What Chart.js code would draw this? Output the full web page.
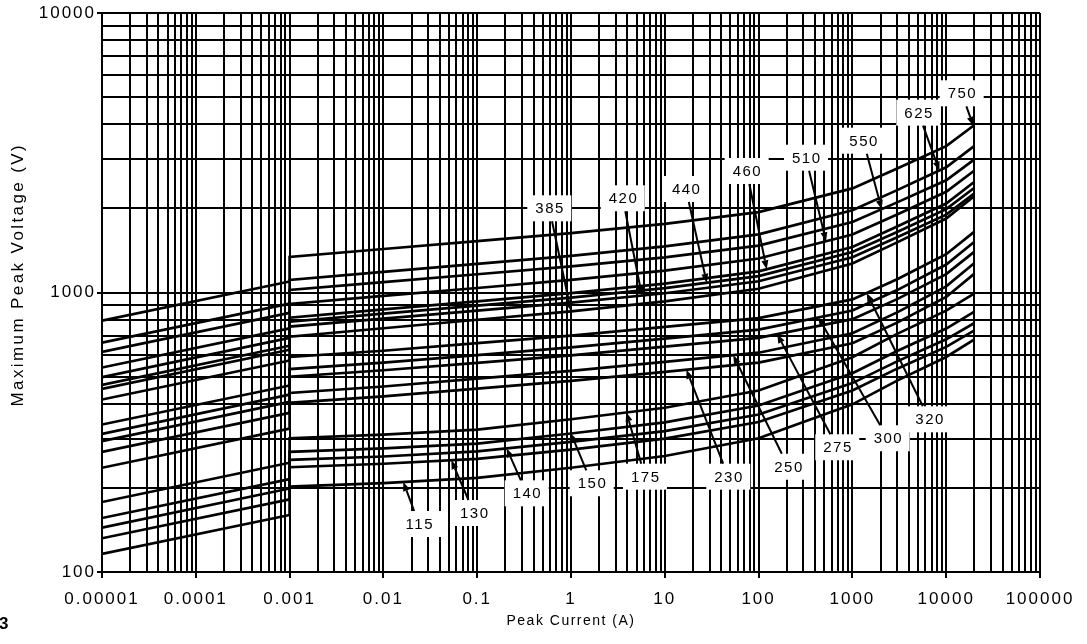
<!DOCTYPE html>
<html><head><meta charset="utf-8">
<script src="https://cdn.jsdelivr.net/npm/chart.js@4.4.1/dist/chart.umd.min.js"></script>
<style>html,body{margin:0;padding:0;background:#fff;}canvas{display:block;}</style>
</head><body>
<canvas id="c" width="1087" height="644"></canvas>
<script>
// Peak current (A) sample points; 0.001 appears twice (step in the curves)
const current = [0.00001, 0.001, 0.001, 0.01, 0.1, 1, 10, 100, 1000, 3000, 10000, 20000];
// Maximum peak voltage (V) for each rating
const v115 = [116, 160, 202, 208, 217, 236, 260, 301, 398, 484, 588, 680];
const v130 = [132, 182, 237, 244, 254, 274, 300, 344, 446, 534, 639, 732];
const v140 = [144, 199, 252, 259, 270, 292, 319, 366, 474, 567, 680, 778];
const v150 = [156, 215, 269, 277, 288, 313, 343, 394, 514, 618, 743, 854];
const v175 = [178, 246, 301, 310, 323, 352, 387, 446, 587, 711, 861, 993];
const v230 = [236, 326, 403, 425, 453, 483, 520, 561, 658, 780, 964, 1168];
const v250 = [269, 371, 437, 461, 492, 524, 565, 609, 715, 849, 1052, 1275];
const v275 = [294, 406, 500, 527, 560, 596, 640, 688, 803, 947, 1163, 1400];
const v300 = [312, 431, 532, 561, 597, 636, 684, 737, 862, 1020, 1259, 1520];
const v320 = [337, 465, 588, 619, 659, 701, 753, 810, 945, 1115, 1371, 1651];
const v385 = [414, 571, 695, 745, 799, 856, 929, 1031, 1270, 1511, 1840, 2214];
const v420 = [452, 624, 755, 806, 861, 920, 994, 1097, 1337, 1576, 1899, 2264];
const v440 = [467, 645, 786, 840, 897, 959, 1036, 1144, 1395, 1647, 1987, 2371];
const v460 = [498, 688, 813, 870, 930, 995, 1076, 1190, 1455, 1721, 2082, 2491];
const v510 = [539, 744, 910, 972, 1038, 1109, 1198, 1323, 1612, 1901, 2293, 2733];
const v550 = [613, 846, 1021, 1089, 1162, 1240, 1336, 1472, 1787, 2101, 2522, 2996];
const v625 = [661, 912, 1109, 1185, 1266, 1353, 1462, 1614, 1969, 2324, 2804, 3345];
const v750 = [793, 1095, 1340, 1431, 1527, 1630, 1759, 1940, 2358, 2777, 3340, 3975];
const ratings = ['115','130','140','150','175','230','250','275','300','320','385','420','440','460','510','550','625','750'];
const series = [v115,v130,v140,v150,v175,v230,v250,v275,v300,v320,v385,v420,v440,v460,v510,v550,v625,v750];

// Tick labels
const xDecades = [-5,-4,-3,-2,-1,0,1,2,3,4,5];
const xTickLabels = ['0.00001','0.0001','0.001','0.01','0.1','1','10','100','1000','10000','100000'];
const yDecades = [2,3,4];
const yTickLabels = ['100','1000','10000'];

// Callout annotations: label centre (data units) and the current at which the arrow meets its curve
const callouts = [
  {lx:0.024, ly:148.5, tx:0.0163},
  {lx:0.0925, ly:162.6, tx:0.053},
  {lx:0.337, ly:191.2, tx:0.206},
  {lx:1.663, ly:207.7, tx:1.0},
  {lx:6.15, ly:219.3, tx:3.9},
  {lx:47.5, ly:219.3, tx:17},
  {lx:207, ly:238, tx:53.7},
  {lx:690, ly:279.4, tx:158},
  {lx:2377, ly:300.9, tx:434},
  {lx:6607, ly:351.8, tx:1419},
  {lx:0.587, ly:2001, tx:1.0},
  {lx:3.56, ly:2173, tx:5.7},
  {lx:16.8, ly:2346, tx:28},
  {lx:74.6, ly:2721, tx:122},
  {lx:320, ly:3036, tx:523},
  {lx:1307, ly:3493, tx:2052},
  {lx:5042, ly:4399, tx:8450},
  {lx:14620, ly:5161, tx:19500}
];

const FONT = '"Liberation Sans", Arial, Helvetica, sans-serif';
Chart.defaults.font.family = FONT;
Chart.defaults.color = '#000';

function decadeTicks(decs){
  const t = [];
  for (let i = 0; i < decs.length - 1; i++) {
    for (let k = 1; k <= 9; k++) t.push({value: k * Math.pow(10, decs[i])});
  }
  t.push({value: Math.pow(10, decs[decs.length - 1])});
  return t;
}
function decadeIndex(v, decs){
  if (v == null) return -1;
  const e = Math.log10(v), r = Math.round(e);
  return Math.abs(e - r) < 1e-6 ? decs.indexOf(r) : -1;
}
function interpLog(xs, ys, xv){
  const lx = Math.log10(xv);
  for (let i = 0; i < xs.length - 1; i++) {
    const a = Math.log10(xs[i]), b = Math.log10(xs[i+1]);
    if (b > a && lx >= a && lx <= b) {
      const f = (lx - a) / (b - a);
      return Math.pow(10, Math.log10(ys[i]) + f * (Math.log10(ys[i+1]) - Math.log10(ys[i])));
    }
  }
  return ys[ys.length - 1];
}

const spacingPlugin = {
  id: 'spacing',
  afterLayout(chart){
    const ctx = chart.ctx;
    const conf = {x:{labels:'2px', title:'1.5px'}, y:{labels:'2px', title:'2.4px'}};
    ['x','y'].forEach(id => {
      const s = chart.scales[id];
      if (!s || s.__wrapped) return;
      s.__wrapped = true;
      const dl = s.drawLabels, dt = s.drawTitle;
      s.drawLabels = function(a){ ctx.letterSpacing = conf[id].labels; dl.call(this, a); ctx.letterSpacing = '0px'; };
      s.drawTitle = function(){ ctx.letterSpacing = conf[id].title; dt.call(this); ctx.letterSpacing = '0px'; };
    });
  }
};

const calloutPlugin = {
  id: 'callouts',
  afterDatasetsDraw(chart){
    const {ctx, scales:{x, y}} = chart;
    ctx.save();
    callouts.forEach((a, i) => {
      const cx = x.getPixelForValue(a.lx), cy = y.getPixelForValue(a.ly);
      const tx = x.getPixelForValue(a.tx), ty = y.getPixelForValue(interpLog(current, series[i], a.tx));
      const w = 44, h = 26;
      ctx.fillStyle = '#fff';
      ctx.fillRect(cx - w/2, cy - h/2, w, h);
      const dx = tx - cx, dy = ty - cy;
      const t = Math.min((w/2) / Math.max(Math.abs(dx), 1e-6), (h/2) / Math.max(Math.abs(dy), 1e-6));
      const sx = cx + dx * t, sy = cy + dy * t;
      const len = Math.hypot(tx - sx, ty - sy);
      const ux = (tx - sx) / len, uy = (ty - sy) / len;
      const hl = 9, hw = 3.5;
      ctx.strokeStyle = '#000'; ctx.fillStyle = '#000'; ctx.lineWidth = 2;
      ctx.beginPath(); ctx.moveTo(sx, sy); ctx.lineTo(tx - ux * hl, ty - uy * hl); ctx.stroke();
      ctx.beginPath();
      ctx.moveTo(tx, ty);
      ctx.lineTo(tx - ux * hl - uy * hw, ty - uy * hl + ux * hw);
      ctx.lineTo(tx - ux * hl + uy * hw, ty - uy * hl - ux * hw);
      ctx.closePath(); ctx.fill();
      ctx.font = '15px ' + FONT;
      ctx.letterSpacing = '1.5px';
      ctx.textAlign = 'center'; ctx.textBaseline = 'middle';
      ctx.fillText(ratings[i], cx + 0.75, cy + 1);
      ctx.letterSpacing = '0px';
    });
    ctx.restore();
  },
  afterDraw(chart){
    const ctx = chart.ctx;
    ctx.save();
    ctx.font = 'bold 17px ' + FONT;
    ctx.fillStyle = '#000';
    ctx.textBaseline = 'alphabetic';
    ctx.fillText('3', -1, 629);
    ctx.restore();
  }
};

const datasets = series.map((vals, i) => ({
  label: ratings[i],
  data: current.map((c, j) => ({x: c, y: vals[j]})),
  borderColor: '#000',
  borderWidth: 2.7,
  pointRadius: 0,
  showLine: true,
  fill: false,
  tension: 0
}));

new Chart(document.getElementById('c'), {
  type: 'scatter',
  data: {datasets},
  options: {
    responsive: false,
    animation: false,
    events: [],
    layout: {padding: {top: 13, right: 47, left: 0, bottom: 0}},
    plugins: {legend: {display: false}, tooltip: {enabled: false}},
    scales: {
      x: {
        type: 'logarithmic',
        min: 0.00001, max: 100000,
        afterBuildTicks: s => { s.ticks = decadeTicks(xDecades); },
        afterFit: s => { s.height = 72; },
        grid: {
          color: '#000', lineWidth: 2, drawTicks: true, tickLength: 6, tickWidth: 2,
          tickColor: c => decadeIndex(c.tick && c.tick.value, xDecades) >= 0 ? '#000' : 'rgba(0,0,0,0)'
        },
        border: {display: true, color: '#000', width: 2},
        ticks: {
          autoSkip: false, maxRotation: 0, minRotation: 0, padding: 11,
          font: {size: 17},
          callback: v => { const k = decadeIndex(v, xDecades); return k >= 0 ? xTickLabels[k] : ''; }
        },
        title: {display: true, text: 'Peak Current (A)', font: {size: 14}, padding: {top: 0, bottom: 14}}
      },
      y: {
        type: 'logarithmic',
        min: 100, max: 10000,
        afterBuildTicks: s => { s.ticks = decadeTicks(yDecades); },
        afterFit: s => { s.width = 102; },
        grid: {
          color: '#000', lineWidth: 2, drawTicks: true, tickLength: 5, tickWidth: 2,
          tickColor: c => decadeIndex(c.tick && c.tick.value, yDecades) >= 0 ? '#000' : 'rgba(0,0,0,0)'
        },
        border: {display: true, color: '#000', width: 2},
        ticks: {
          autoSkip: false, padding: 1,
          font: {size: 17},
          callback: v => { const k = decadeIndex(v, yDecades); return k >= 0 ? yTickLabels[k] : ''; }
        },
        title: {display: true, text: '     Maximum Peak Voltage (V)', font: {size: 17}, padding: {top: 8, bottom: 0}}
      }
    }
  },
  plugins: [spacingPlugin, calloutPlugin]
});
</script>
</body></html>
